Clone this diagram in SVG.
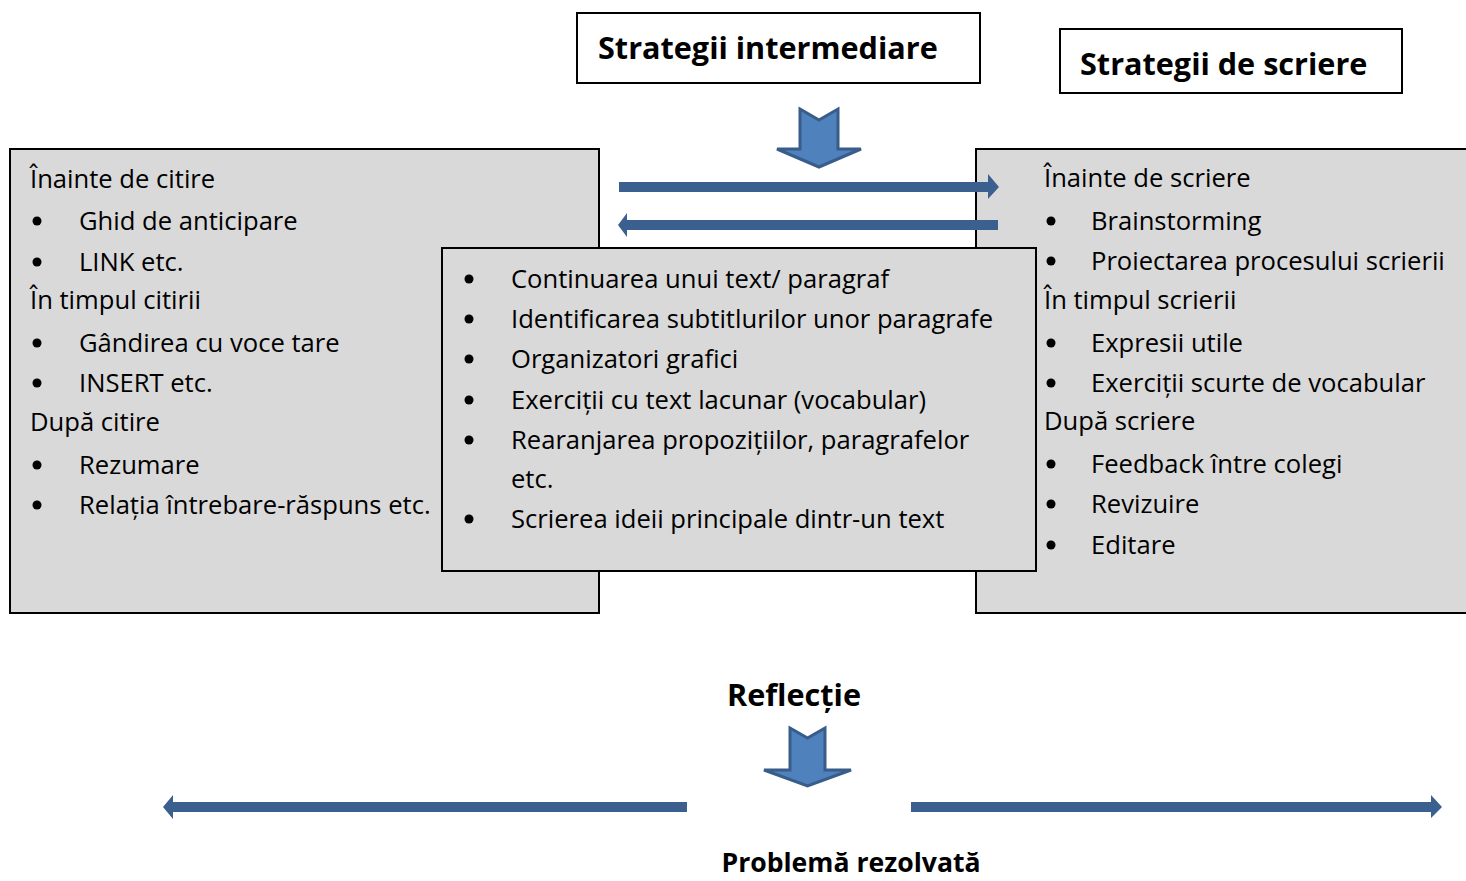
<svg xmlns="http://www.w3.org/2000/svg" width="1466" height="881" viewBox="0 0 1466 881">
<style>
.box{fill:#d9d9d9;stroke:#000;stroke-width:2}
.tbox{fill:#fff;stroke:#000;stroke-width:2}
.t{font-family:"Open Sans","DejaVu Sans",sans-serif;font-size:25.6px;fill:#000}
.h{font-family:"Open Sans","DejaVu Sans",sans-serif;font-size:30.6px;font-weight:bold;fill:#000}
.hb{font-family:"Open Sans","DejaVu Sans",sans-serif;font-size:26.6px;font-weight:bold;fill:#000}
.harrow{fill:#3b5f8e}
.darrow{fill:#4f81bd;stroke:#385d8a;stroke-width:3;stroke-linejoin:miter}
.b{fill:#000}
</style>
<rect width="1466" height="881" fill="#fff"/>
<g id="title-intermediare">
<rect class="tbox" x="577" y="13" width="403" height="70"/>
<text class="h" x="598" y="59">Strategii intermediare</text>
</g>
<g id="title-scriere">
<rect class="tbox" x="1060" y="29" width="342" height="64"/>
<text class="h" x="1080" y="75">Strategii de scriere</text>
</g>
<g id="citire">
<rect class="box" x="10" y="149" width="589" height="464"/>
<text class="t" x="30" y="188">Înainte de citire</text>
<circle class="b" cx="37" cy="221" r="4.5"/><text class="t" x="79" y="230">Ghid de anticipare</text>
<circle class="b" cx="37" cy="262" r="4.5"/><text class="t" x="79" y="271">LINK etc.</text>
<text class="t" x="30" y="309">În timpul citirii</text>
<circle class="b" cx="37" cy="343" r="4.5"/><text class="t" x="79" y="352">Gândirea cu voce tare</text>
<circle class="b" cx="37" cy="383" r="4.5"/><text class="t" x="79" y="392">INSERT etc.</text>
<text class="t" x="30" y="431">După citire</text>
<circle class="b" cx="37" cy="465" r="4.5"/><text class="t" x="79" y="474">Rezumare</text>
<circle class="b" cx="37" cy="505" r="4.5"/><text class="t" x="79" y="514">Relația întrebare-răspuns etc.</text>
</g>
<g id="scriere">
<rect class="box" x="976" y="149" width="500" height="464"/>
<text class="t" x="1044" y="187">Înainte de scriere</text>
<circle class="b" cx="1051" cy="221" r="4.5"/><text class="t" x="1091" y="230">Brainstorming</text>
<circle class="b" cx="1051" cy="261" r="4.5"/><text class="t" x="1091" y="270">Proiectarea procesului scrierii</text>
<text class="t" x="1044" y="309">În timpul scrierii</text>
<circle class="b" cx="1051" cy="343" r="4.5"/><text class="t" x="1091" y="352">Expresii utile</text>
<circle class="b" cx="1051" cy="383" r="4.5"/><text class="t" x="1091" y="392">Exerciții scurte de vocabular</text>
<text class="t" x="1044" y="430">După scriere</text>
<circle class="b" cx="1051" cy="464" r="4.5"/><text class="t" x="1091" y="473">Feedback între colegi</text>
<circle class="b" cx="1051" cy="504" r="4.5"/><text class="t" x="1091" y="513">Revizuire</text>
<circle class="b" cx="1051" cy="545" r="4.5"/><text class="t" x="1091" y="554">Editare</text>
</g>
<g id="intermediare">
<rect class="box" x="442" y="248" width="594" height="323"/>
<circle class="b" cx="469" cy="279" r="4.5"/><text class="t" x="511" y="288">Continuarea unui text/ paragraf</text>
<circle class="b" cx="469" cy="319" r="4.5"/><text class="t" x="511" y="328">Identificarea subtitlurilor unor paragrafe</text>
<circle class="b" cx="469" cy="359" r="4.5"/><text class="t" x="511" y="368">Organizatori grafici</text>
<circle class="b" cx="469" cy="400" r="4.5"/><text class="t" x="511" y="409">Exerciții cu text lacunar (vocabular)</text>
<circle class="b" cx="469" cy="440" r="4.5"/><text class="t" x="511" y="449">Rearanjarea propozițiilor, paragrafelor</text>
<text class="t" x="511" y="488">etc.</text>
<circle class="b" cx="469" cy="519" r="4.5"/><text class="t" x="511" y="528">Scrierea ideii principale dintr-un text</text>
</g>
<g id="reflectie">
<text class="h" x="794" y="706" text-anchor="middle">Reflecție</text>
</g>
<g id="problema">
<text class="hb" x="851" y="872" text-anchor="middle">Problemă rezolvată</text>
</g>
<g id="connectors">
<polygon class="darrow" points="800,109 819,120 838,109 838,149 861,149 819,167 777,149 800,149"/>
<polygon class="harrow" points="619,182 988,182 988,174 999,187 988,199 988,192 619,192"/>
<polygon class="harrow" points="998,220 627,220 627,213 618,225 627,237 627,230 998,230"/>
<polygon class="darrow" points="790,728 807.5,738 825,728 825,770 851,770 807.5,786 764,770 790,770"/>
<polygon class="harrow" points="687,802 173,802 173,795 163,807 173,819 173,812 687,812"/>
<polygon class="harrow" points="911,802 1431,802 1431,795 1442,807 1431,818 1431,812 911,812"/>
</g>
</svg>
